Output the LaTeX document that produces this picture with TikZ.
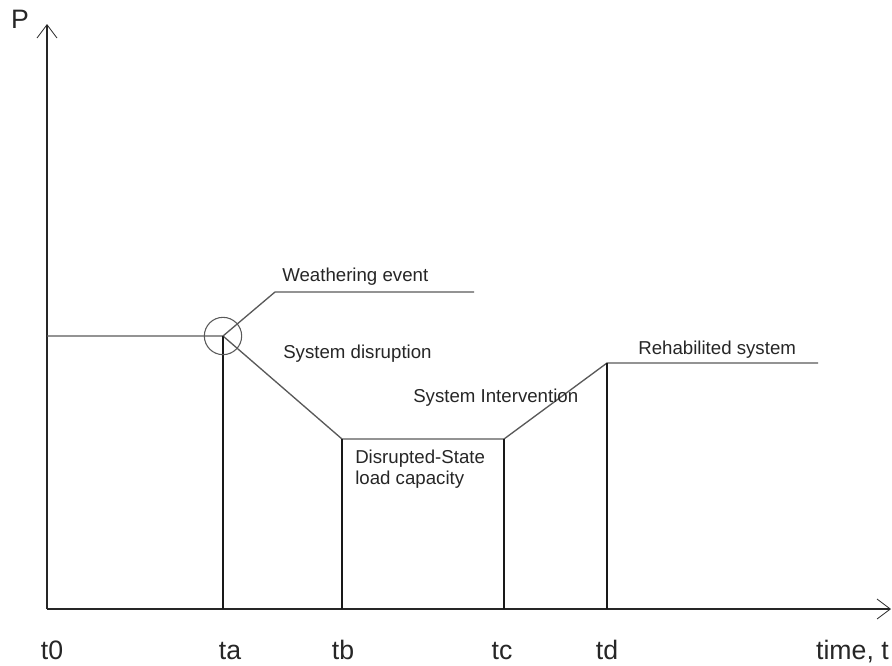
\documentclass[tikz,border=0pt]{standalone}
\usepackage{fontspec}
\setmainfont{Liberation Sans}
\usetikzlibrary{arrows.meta}
\begin{document}
\begin{tikzpicture}[x=0.75pt,y=-0.75pt,
  axis/.style={draw=black!85, line width=0.8pt, -{Straight Barb[length=10pt,width=15pt,line width=0.6pt]}},
  curve/.style={draw=black!65, line width=1pt},
  drop/.style={draw=black!90, line width=0.9pt},
  lbl/.style={inner sep=0pt, anchor=base west, font=\fontsize{14}{16}\selectfont, text=black!85},
  tick/.style={inner sep=0pt, anchor=base, font=\fontsize{20}{22}\selectfont, text=black!85}]
\useasboundingbox (0,0) rectangle (892,665);
% coordinates
\coordinate (O) at (47,609);
\coordinate (ytip) at (47,24);
\coordinate (xtip) at (891,609);
\coordinate (p0) at (47,336);
\coordinate (pa) at (223,336);
\coordinate (pb) at (342,439);
\coordinate (pc) at (504,439);
\coordinate (pd) at (607,363);
\coordinate (pe) at (818,363);
\coordinate (ba) at (223,609);
\coordinate (bb) at (342,609);
\coordinate (bc) at (504,609);
\coordinate (bd) at (607,609);
\coordinate (lk) at (275,292);
\coordinate (le) at (474,292);
% axes
\draw[axis] (O) -- (ytip);
\draw[axis] (O) -- (xtip);
% curve
\draw[curve] (p0) -- (pa) -- (pb) -- (pc) -- (pd) -- (pe);
% drops
\draw[drop] (pa) -- (ba);
\draw[drop] (pb) -- (bb);
\draw[drop] (pc) -- (bc);
\draw[drop] (pd) -- (bd);
% event marker
\node[draw=black!65, line width=0.8pt, circle, minimum size=28pt, inner sep=0pt] (ev) at (pa) {};
\draw[curve] (pa) -- (lk) -- (le);
% labels
\node[lbl] (weather) at (282,281) {Weathering event};
\node[lbl] (disrupt) at (283,358) {System disruption};
\node[lbl] (interv) at (413,402) {System Intervention};
\node[lbl] (dstate) at (355,463) {Disrupted-State};
\node[lbl] (load) at (355,484) {load capacity};
\node[lbl] (rehab) at (638,354) {Rehabilited system};
% axis labels
\node[inner sep=0pt, anchor=base, font=\fontsize{20}{22}\selectfont, text=black!85] (P) at (20,28) {P};
\node[tick] (t0) at (52,659) {t0};
\node[tick] (ta) at (230,659) {ta};
\node[tick] (tb) at (343,659) {tb};
\node[tick] (tc) at (502,659) {tc};
\node[tick] (td) at (607,659) {td};
\node[tick, anchor=base east] (time) at (889,659) {time, t};
\end{tikzpicture}
\end{document}
